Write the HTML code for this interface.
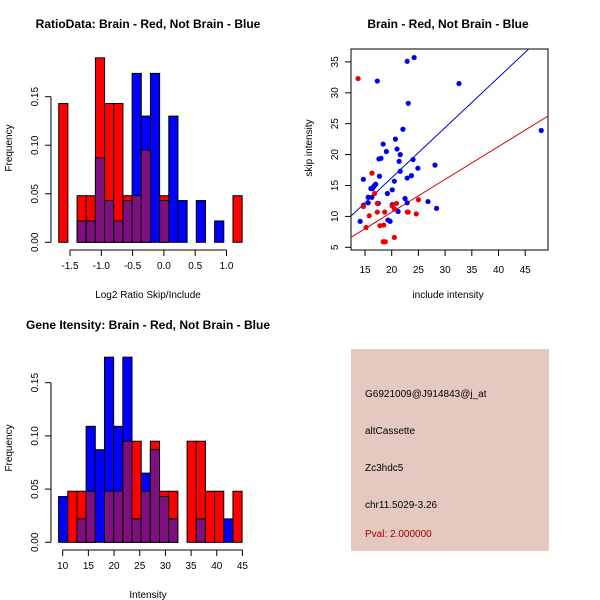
<!DOCTYPE html>
<html><head><meta charset="utf-8"><style>
body{margin:0;background:#fff}
svg{display:block;font-family:"Liberation Sans",Arial,sans-serif}
</style></head><body>
<svg id="s" width="600" height="600">
<rect width="600" height="600" fill="#fff"/>
<text x="148" y="28" font-size="12" font-weight="bold" text-anchor="middle">RatioData: Brain - Red, Not Brain - Blue</text>
<text x="448" y="28" font-size="12" font-weight="bold" text-anchor="middle">Brain - Red, Not Brain - Blue</text>
<text x="148" y="329" font-size="12" font-weight="bold" text-anchor="middle">Gene Itensity: Brain - Red, Not Brain - Blue</text>
<text x="148" y="298" font-size="10" text-anchor="middle">Log2 Ratio Skip/Include</text>
<text x="148" y="598" font-size="10" text-anchor="middle">Intensity</text>
<text x="448" y="298" font-size="10" text-anchor="middle">include intensity</text>
<text transform="translate(12,148) rotate(-90)" font-size="10" text-anchor="middle">Frequency</text>
<text transform="translate(12,448) rotate(-90)" font-size="10" text-anchor="middle">Frequency</text>
<text transform="translate(312,148) rotate(-90)" font-size="10" text-anchor="middle">skip intensity</text>
<g id="g1"></g>
<g id="g2"></g>
<g id="g3"></g>
<g>
<rect x="351" y="349" width="198" height="202" fill="#e5c9c1"/>
<text x="365" y="397" font-size="10">G6921009@J914843@j_at</text>
<text x="365" y="434" font-size="10">altCassette</text>
<text x="365" y="471" font-size="10">Zc3hdc5</text>
<text x="365" y="508" font-size="10">chr11.5029-3.26</text>
<text x="365" y="537" font-size="10" fill="#a00000">Pval: 2.000000</text>
</g>
</svg>
<script>
// Ratio histogram data (20 bins)
const ratioRed  = [0.143,0,0.048,0.048,0.19,0.143,0.143,0.048,0.048,0.095,0,0.048,0,0,0,0,0,0,0,0.048];
const ratioBlue = [0,0,0.022,0.022,0.087,0.043,0.022,0.043,0.174,0.13,0.174,0.043,0.13,0.043,0,0.043,0,0.022,0,0];
const ratioXTicks = [-1.5,-1,-0.5,0,0.5,1];
const ratioXLabels = ["-1.5","-1.0","-0.5","0.0","0.5","1.0"];
const ratioBinStart = -1.68, ratioBinWidth = 0.1465;
// Intensity histogram data (20 bins)
const intRed  = [0,0.048,0.048,0.048,0,0.048,0.048,0.095,0.095,0.048,0.095,0.048,0.048,0,0.095,0.095,0.048,0.048,0,0.048];
const intBlue = [0.043,0,0.022,0.109,0.087,0.174,0.109,0.174,0.022,0.065,0.087,0.043,0.022,0,0,0.022,0,0,0.022,0];
const intXTicks = [10,15,20,25,30,35,40,45];
const intBinStart = 9.2, intBinWidth = 1.787;
const freqTicks = [0,0.05,0.10,0.15];
const freqLabels = ["0.00","0.05","0.10","0.15"];
// Scatter data
const blueX = [22.9,24.2,17.3,32.6,23.1,22.1,48.0,20.7,18.4,21.0,19.0,21.6,18.0,17.6,24.0,21.4,28.1,24.9,21.6,17.7,23.7,22.9,14.7,17.0,16.8,16.6,20.5,16.4,16.1,20.1,19.2,15.6,16.3,22.5,26.8,15.6,17.5,22.9,14.7,20.1,28.4,21.2,19.3,19.7,14.1];
const blueY = [35.1,35.7,31.9,31.5,28.3,24.1,23.9,22.5,21.7,20.9,20.5,20.0,19.4,19.3,19.2,18.9,18.3,17.8,17.3,16.5,16.6,16.2,16.0,15.2,15.0,14.8,15.7,14.5,14.5,14.3,13.7,13.1,13.1,12.9,12.4,12.2,12.1,12.2,11.8,11.9,11.3,10.8,9.4,9.2,9.2];
const redX = [13.7,16.3,16.8,25.0,20.9,17.3,20.1,20.5,14.7,17.3,18.7,22.9,23.1,24.6,15.8,17.8,18.5,15.2,20.5,18.4,18.8];
const redY = [32.3,17.0,13.7,12.7,12.1,12.1,11.7,11.2,11.6,10.7,10.7,10.7,10.7,10.4,10.1,8.5,8.6,8.2,6.6,5.9,5.9];
const scXTicks = [15,20,25,30,35,40,45];
const scYTicks = [5,10,15,20,25,30,35];
const blueSlope = 0.812, blueIntercept = 0.01;
const redSlope = 0.532, redIntercept = 0.03;

const NS="http://www.w3.org/2000/svg";
function mk(parent,tag,attrs){const e=document.createElementNS(NS,tag);for(const k in attrs)e.setAttribute(k,attrs[k]);parent.appendChild(e);return e;}

function hist(g,red,blue,bs,bw,xs,ys,xticks,xlabels,axisY,name){
  for(let i=0;i<red.length;i++){
    const x0=xs(bs+i*bw), x1=xs(bs+(i+1)*bw);
    const r=red[i], b=blue[i];
    const drawBar=(v,c,n)=>{ if(v<=0)return;
      const e=mk(g,'rect',{x:x0,y:ys(v),width:x1-x0,height:ys(0)-ys(v),fill:c,stroke:'#000','stroke-width':1});
      
      
    };
    if(r>=b){drawBar(r,'#ff0000','bar-red-'+i);} else {drawBar(b,'#0000ff','bar-blue-'+i);}
    const m=Math.min(r,b);
    if(m>0) drawBar(m,'#7f0f7f','bar-overlap-'+i);
    else if(r>=b){} 
  }
  const xa=xs(xticks[0]), xb=xs(xticks[xticks.length-1]);
  const ax=mk(g,'path',{d:`M${xa},${axisY}H${xb}`,stroke:'#000',fill:'none'});
  
  
  xticks.forEach((t,i)=>{
    mk(g,'path',{d:`M${xs(t)},${axisY}v6`,stroke:'#000'});
    const tx=mk(g,'text',{x:xs(t),y:axisY+19,'font-size':10,'text-anchor':'middle'});
    tx.textContent=xlabels?xlabels[i]:t;
    
    
  });
  const ay=mk(g,'path',{d:`M51,${ys(0)}V${ys(0.15)}`,stroke:'#000',fill:'none'});
  
  
  freqTicks.forEach((t,i)=>{
    mk(g,'path',{d:`M51,${ys(t)}h-6`,stroke:'#000'});
    const tx=mk(g,'text',{transform:`translate(38,${ys(t)}) rotate(-90)`,'font-size':10,'text-anchor':'middle'});
    tx.textContent=freqLabels[i];
    
    
  });
}
const g1=document.getElementById('g1');
hist(g1,ratioRed,ratioBlue,ratioBinStart,ratioBinWidth,v=>70+(v+1.5)*62.6,v=>242.3-v*970.7,ratioXTicks,ratioXLabels,250,'ratio');
const g2=document.getElementById('g2');
hist(g2,intRed,intBlue,intBinStart,intBinWidth,v=>62.7+(v-10)*5.135,v=>542.3-v*1064,intXTicks,null,550,'intensity');

// scatter
const g3=document.getElementById('g3');
const sx=v=>365+(v-15)*5.34, sy=v=>247.3-(v-5)*6.18;
mk(g3,'rect',{x:351,y:49,width:197,height:201,fill:'none',stroke:'#000'});
const cp=mk(g3,'clipPath',{id:'cp'});mk(cp,'rect',{x:351,y:49,width:197,height:201});
const lines=[[blueSlope,blueIntercept,'#0000cc','fit-line-blue'],[redSlope,redIntercept,'#cc0000','fit-line-red']];
lines.forEach(([m,c,col,n])=>{
  const xa=12,xb=50;
  const l=mk(g3,'line',{x1:sx(xa),y1:sy(m*xa+c),x2:sx(xb),y2:sy(m*xb+c),stroke:col,'clip-path':'url(#cp)'});
  
  
});
blueX.forEach((x,i)=>{
  const p=mk(g3,'circle',{cx:sx(x),cy:sy(blueY[i]),r:2.6,fill:'#0000ee'});
  
  
});
redX.forEach((x,i)=>{
  const p=mk(g3,'circle',{cx:sx(x),cy:sy(redY[i]),r:2.6,fill:'#ee0000'});
  
  
});
scXTicks.forEach(t=>{
  mk(g3,'path',{d:`M${sx(t)},250v6`,stroke:'#000'});
  const tx=mk(g3,'text',{x:sx(t),y:273,'font-size':10,'text-anchor':'middle'});tx.textContent=t;
  
  
});
scYTicks.forEach(t=>{
  mk(g3,'path',{d:`M351,${sy(t)}h-6`,stroke:'#000'});
  const tx=mk(g3,'text',{transform:`translate(338,${sy(t)}) rotate(-90)`,'font-size':10,'text-anchor':'middle'});tx.textContent=t;
  
  
});
</script>
</body></html>
